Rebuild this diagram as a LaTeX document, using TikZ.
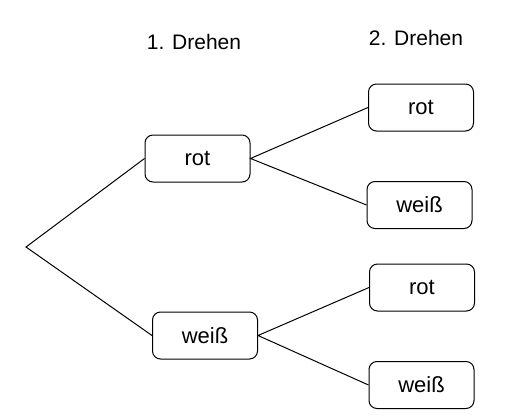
\documentclass[tikz,border=0pt]{standalone}
\usepackage{fontspec}
\setmainfont{Liberation Sans}

\tikzset{
  choice/.style={draw, rounded corners=8pt, line width=1pt,
    minimum width=105pt, minimum height=47pt, inner sep=0pt,
    font=\fontsize{22pt}{26pt}\selectfont},
  head/.style={font=\fontsize{21pt}{25pt}\selectfont, inner sep=0pt},
  branch/.style={line width=1pt}
}

\begin{document}
\begin{tikzpicture}[x=1pt, y=-1pt]
  \useasboundingbox (0,0) rectangle (511,420);

  % Headings
  \node[head] (h1) at (194,42) {1. Drehen};
  \node[head] (h2) at (416,38) {2. Drehen};

  % Define nodes
  \coordinate (start) at (26,247);
  \node[choice] (r)  at (197.5,158.5) {rot};
  \node[choice] (w)  at (205,335.5)   {weiß};
  \node[choice] (rr) at (421,107.5)   {rot};
  \node[choice] (rw) at (419.5,205)   {weiß};
  \node[choice] (wr) at (422,287.5)   {rot};
  \node[choice] (ww) at (421.5,385)   {weiß};

  % Connect the nodes
  \draw[branch] (r.west) -- (start) -- (w.west);
  \draw[branch] (rr.west) -- (r.east) -- (rw.west);
  \draw[branch] (wr.west) -- (w.east) -- (ww.west);

\end{tikzpicture}
\end{document}
